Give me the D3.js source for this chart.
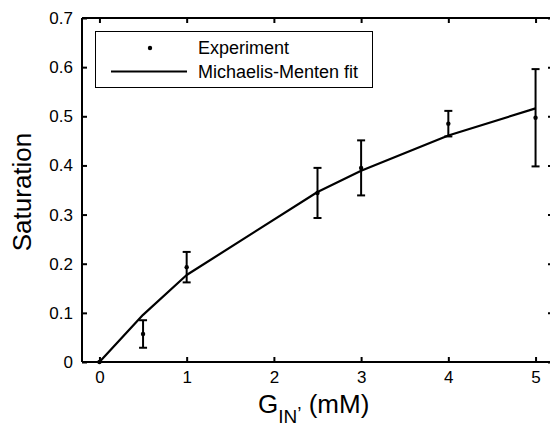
<!DOCTYPE html>
<html>
<head>
<meta charset="utf-8">
<script src="https://cdn.jsdelivr.net/npm/d3@7"></script>
<style>
  html, body { margin: 0; padding: 0; background: #fff; }
  svg { display: block; font-family: "Liberation Sans", Arial, sans-serif; }
</style>
</head>
<body>
<svg id="chart" width="550" height="432"></svg>
<script>
// ---- data ----
const concentrations = [0, 0.5, 1, 2.5, 3, 4, 5];           // G_IN (mM)
const saturationMean = [0, 0.057, 0.193, 0.344, 0.395, 0.485, 0.497];
const saturationErr  = [0, 0.028, 0.031, 0.051, 0.056, 0.026, 0.099];
const fitValues      = [0, 0.096, 0.177, 0.346, 0.389, 0.461, 0.516];
const xTicks = [0, 1, 2, 3, 4, 5];
const yTicks = [0, 0.1, 0.2, 0.3, 0.4, 0.5, 0.6, 0.7];
const legendLabels = ["Experiment", "Michaelis-Menten fit"];

// ---- layout ----
const svg = d3.select("#chart");
const L = 82, T = 18, R = 553, B = 362;
const x = d3.scaleLinear().domain([-0.2, 5.2]).range([L, R]);
const y = d3.scaleLinear().domain([0, 0.7]).range([B, T]);

const tickFmtY = d => d === 0 ? "0" : d3.format(".1f")(d);

// axes
const gx = svg.append("g").attr("transform", `translate(0,${B})`)
  .call(d3.axisBottom(x).tickValues(xTicks).tickSizeInner(-5).tickSizeOuter(0).tickPadding(9).tickFormat(d3.format("d")));
const gxt = svg.append("g").attr("transform", `translate(0,${T})`)
  .call(d3.axisTop(x).tickValues(xTicks).tickSizeInner(-5).tickSizeOuter(0).tickFormat(""));
const gy = svg.append("g").attr("transform", `translate(${L},0)`)
  .call(d3.axisLeft(y).tickValues(yTicks).tickSizeInner(-5).tickSizeOuter(0).tickPadding(9).tickFormat(tickFmtY));
const gyr = svg.append("g").attr("transform", `translate(${R},0)`)
  .call(d3.axisRight(y).tickValues(yTicks).tickSizeInner(-5).tickSizeOuter(0).tickFormat(""));

[gx, gxt, gy, gyr].forEach(g => {
  g.select(".domain").attr("stroke", "#000").attr("stroke-width", 2);
  g.selectAll(".tick line").attr("stroke", "#000").attr("stroke-width", 2);
  g.selectAll(".tick text").attr("fill", "#000").attr("font-size", 17)
    .attr("font-family", "Liberation Sans, Arial, sans-serif");
});
gx.selectAll(".tick text").attr("dy", "0.71em");
// extend domain lines to corners
gx.select(".domain").attr("d", `M${L},0H${R}`);
gxt.select(".domain").attr("d", `M${L},0H${R}`);
gy.select(".domain").attr("d", `M0,${T}V${B}`);
gyr.select(".domain").attr("d", `M0,${T}V${B}`);

// fit line
const line = d3.line().x((d, i) => x(concentrations[i])).y(d => y(d));
svg.append("path").datum(fitValues)
  .attr("d", line).attr("fill", "none").attr("stroke", "#000").attr("stroke-width", 2.2)
  .attr("stroke-linejoin", "round");

// error bars
const capW = 4;
const eb = svg.append("g").attr("stroke", "#000").attr("stroke-width", 2);
concentrations.forEach((c, i) => {
  const e = saturationErr[i];
  if (e <= 0) return;
  const cx = x(c), y1 = y(saturationMean[i] + e), y0 = y(saturationMean[i] - e);
  eb.append("line").attr("x1", cx).attr("x2", cx).attr("y1", y1).attr("y2", y0);
  eb.append("line").attr("x1", cx - capW).attr("x2", cx + capW).attr("y1", y1).attr("y2", y1);
  eb.append("line").attr("x1", cx - capW).attr("x2", cx + capW).attr("y1", y0).attr("y2", y0);
});
// points
svg.append("g").selectAll("circle").data(saturationMean).join("circle")
  .attr("cx", (d, i) => x(concentrations[i])).attr("cy", d => y(d)).attr("r", 2.2).attr("fill", "#000");

// legend
const lg = svg.append("g");
lg.append("rect").attr("x", 95.5).attr("y", 31.5).attr("width", 277).attr("height", 56)
  .attr("fill", "#fff").attr("stroke", "#000").attr("stroke-width", 1);
lg.append("circle").attr("cx", 150).attr("cy", 48).attr("r", 2.2).attr("fill", "#000");
lg.append("line").attr("x1", 111).attr("x2", 187).attr("y1", 71.5).attr("y2", 71.5)
  .attr("stroke", "#000").attr("stroke-width", 2.2);
lg.selectAll("text").data(legendLabels).join("text")
  .attr("x", 198).attr("y", (d, i) => 48 + i * 23.5).attr("dy", "0.35em")
  .attr("font-size", 18).attr("fill", "#000").text(d => d);

// axis labels
svg.append("text").attr("transform", "translate(31,192) rotate(-90)")
  .attr("text-anchor", "middle").attr("font-size", 26).attr("fill", "#000").text("Saturation");
const xl = svg.append("text").attr("x", 258).attr("y", 413).attr("text-anchor", "start")
  .attr("font-size", 26).attr("fill", "#000");
xl.append("tspan").text("G");
xl.append("tspan").attr("font-size", 19).attr("dy", 10).text("IN");
xl.append("tspan").attr("font-size", 19).attr("dy", -3).text("’");
xl.append("tspan").attr("dy", -7).text(" (mM)");
</script>
</body>
</html>
